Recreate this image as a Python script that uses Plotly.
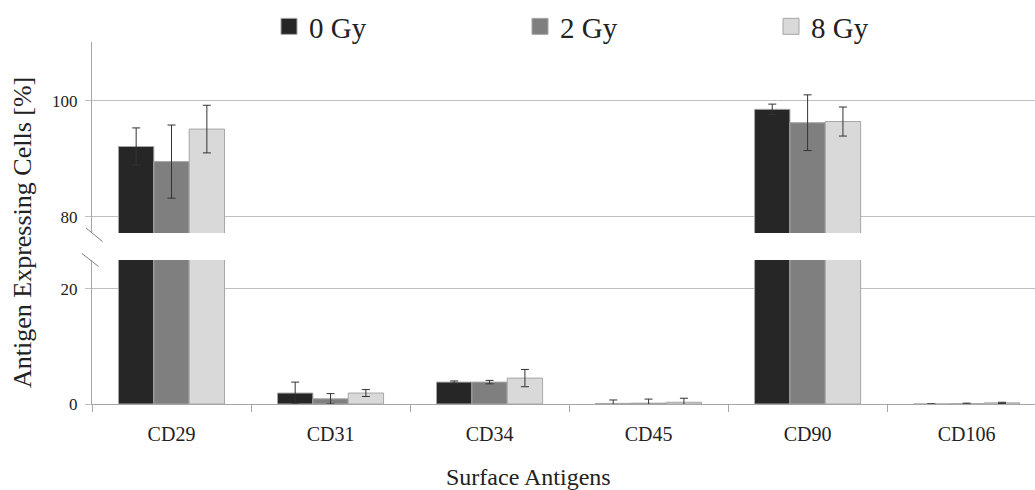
import plotly.graph_objects as go

categories = ["CD29", "CD31", "CD34", "CD45", "CD90", "CD106"]
series_names = ["0 Gy", "2 Gy", "8 Gy"]
gy0 = [92.1, 1.9, 3.8, 0.1, 98.5, 0.0]
gy0_err = [3.2, 1.9, 0.2, 0.6, 0.9, 0.0]
gy2 = [89.5, 0.9, 3.8, 0.15, 96.2, 0.05]
gy2_err = [6.3, 0.9, 0.3, 0.7, 4.8, 0.1]
gy8 = [95.1, 1.9, 4.5, 0.3, 96.4, 0.2]
gy8_err = [4.1, 0.6, 1.5, 0.7, 2.5, 0.1]
colors = ["#262626", "#7f7f7f", "#d9d9d9"]

values = [gy0, gy2, gy8]
errors = [gy0_err, gy2_err, gy8_err]

FONT = "Liberation Serif"
GRID = "#bfbfbf"
AXIS = "#a6a6a6"

fig = go.Figure()
for yax in ["y", "y2"]:
    for name, v, e, c in zip(series_names, values, errors, colors):
        fig.add_trace(go.Bar(
            x=categories, y=v, name=name, xaxis="x", yaxis=yax,
            offsetgroup=name, showlegend=False,
            marker=dict(color=c, line=dict(color="#a6a6a6", width=1)),
            error_y=dict(type="data", array=e, visible=True, color="#333333",
                         thickness=1, width=4),
        ))
# legend entries
for name, c in zip(series_names, colors):
    fig.add_trace(go.Scatter(
        x=[None], y=[None], mode="markers", name=name, xaxis="x", yaxis="y",
        marker=dict(symbol="square", size=16, color=c, line=dict(color="#a6a6a6", width=1)),
        showlegend=True,
    ))

PLOT_L, PLOT_T, PLOT_B = 92, 42, 86
W, H = 1035, 490
plot_h = H - PLOT_T - PLOT_B
plot_w = W - PLOT_L

def py(pix):
    return (H - PLOT_B - pix) / plot_h

def px(pix):
    return (pix - PLOT_L) / plot_w

tick_font = dict(family=FONT, size=17, color="#222222")

fig.update_layout(
    width=W, height=H,
    margin=dict(l=PLOT_L, r=0, t=PLOT_T, b=PLOT_B),
    paper_bgcolor="white", plot_bgcolor="white",
    barmode="group", bargap=0.333, bargroupgap=0,
    font=dict(family=FONT, color="#222222"),
    xaxis=dict(
        anchor="y", range=[-0.5, 5.43], showgrid=False,
        showline=True, linecolor=AXIS, linewidth=1,
        ticks="outside", tickson="boundaries", ticklen=7, tickcolor=AXIS,
        tickfont=dict(family=FONT, size=20, color="#222222"),
        ticklabelstandoff=12,
    ),
    yaxis=dict(
        domain=[0, py(260)], range=[0, 25], tickvals=[0, 20],
        showgrid=True, gridcolor=GRID, gridwidth=1, zeroline=False,
        showline=True, linecolor=AXIS, linewidth=1,
        ticks="outside", ticklen=6, tickcolor=GRID,
        tickfont=tick_font, ticklabelstandoff=4,
    ),
    yaxis2=dict(
        domain=[py(233), 1], range=[77.2, 110.1], tickvals=[80, 100],
        anchor="x",
        showgrid=True, gridcolor=GRID, gridwidth=1, zeroline=False,
        showline=True, linecolor=AXIS, linewidth=1,
        ticks="outside", ticklen=6, tickcolor=GRID,
        tickfont=tick_font, ticklabelstandoff=4,
    ),
    legend=dict(
        orientation="h", x=px(269), xanchor="left", y=py(1), yanchor="top",
        font=dict(family=FONT, size=29, color="#222222"),
        entrywidth=206, entrywidthmode="pixels",
        bgcolor="rgba(0,0,0,0)",
    ),
    annotations=[
        dict(text="Antigen Expressing Cells [%]", xref="paper", yref="paper",
             x=px(22), y=py(233), xanchor="center", yanchor="middle",
             textangle=-90, showarrow=False,
             font=dict(family=FONT, size=26, color="#222222")),
        dict(text="Surface Antigens", xref="paper", yref="paper",
             x=px(528), y=py(477), xanchor="center", yanchor="middle",
             showarrow=False,
             font=dict(family=FONT, size=24, color="#222222")),
    ],
    shapes=[
        dict(type="line", xref="paper", yref="paper",
             x0=px(86), y0=py(228), x1=px(102.5), y1=py(241.5),
             line=dict(color="#7f7f7f", width=1)),
        dict(type="line", xref="paper", yref="paper",
             x0=px(82), y0=py(253.5), x1=px(98.5), y1=py(266.5),
             line=dict(color="#7f7f7f", width=1)),
    ],
)

fig.write_html("out.html")
